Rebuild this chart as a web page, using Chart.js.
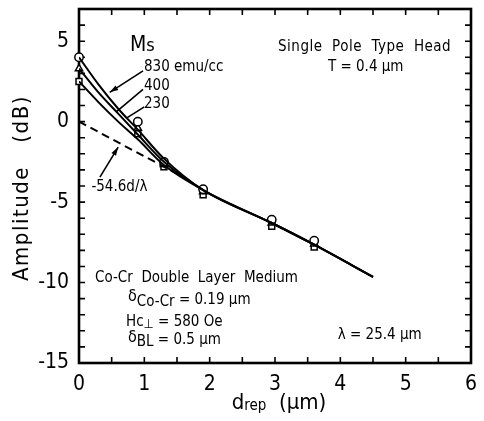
<!DOCTYPE html>
<html>
<head>
<meta charset="utf-8">
<script src="https://cdn.jsdelivr.net/npm/chart.js@4"></script>
<style>
  body { margin: 0; background: #fff; }
  canvas { display: block; }
</style>
</head>
<body>
<canvas id="chart" width="484" height="421"></canvas>
<script>
// fitted curves, one per Ms value (they merge past ~1.9 um)
const curveX = [0, 0.3, 0.6, 0.9, 1.3, 1.9, 2.95, 3.6, 4.5];
const curve830 = [4.0, 2.3, 0.8, -0.5, -2.3, -4.25, -6.3, -7.65, -9.65];
const curve400 = [3.3, 1.8, 0.5, -0.8, -2.5, -4.25, -6.3, -7.65, -9.65];
const curve230 = [2.5, 1.2, 0.0, -1.1, -2.7, -4.25, -6.3, -7.65, -9.65];

// measured points
const measX = [0, 0.9, 1.3, 1.9, 2.95, 3.6];
const meas830 = [4.0, 0.0, -2.5, -4.2, -6.1, -7.4];
const meas400 = [3.3, -0.4, -2.65, -4.35, -6.3, -7.6];
const meas230 = [2.5, -0.75, -2.8, -4.55, -6.5, -7.8];

// -54.6 d/lambda spacing loss line
const dashX = [0, 1.6];
const dashY = [0, -3.45];

const xTickLabels = [0, 1, 2, 3, 4, 5, 6];
const yTickLabels = [-15, -10, -5, 0, 5];

const FONT = '"DejaVu Sans Condensed", "DejaVu Sans", sans-serif';
const pts = (xs, ys) => xs.map((x, i) => ({x: x, y: ys[i]}));

const lineDs = (ys) => ({
    type: 'line',
    data: pts(curveX, ys),
    borderColor: '#000',
    borderWidth: 2,
    pointRadius: 0,
    showLine: true,
    fill: false,
    cubicInterpolationMode: 'monotone'
});

const markDs = (ys, style) => ({
    data: pts(measX, ys),
    pointStyle: style,
    pointRadius: 4.2,
    pointBackgroundColor: '#fff',
    pointBorderColor: '#000',
    pointBorderWidth: 1.5,
    showLine: false,
    clip: false
});

const font = (size) => size + 'px ' + FONT;

// draw a row of text pieces (for subscripts), starting at x
const runs = (ctx, x, y, parts) => {
    parts.forEach(p => {
        ctx.font = font(p[1]);
        ctx.fillText(p[0], x, y + (p[2] || 0));
        x += ctx.measureText(p[0]).width;
    });
    return x;
};
const runsWidth = (ctx, parts) => parts.reduce((w, p) => {
    ctx.font = font(p[1]);
    return w + ctx.measureText(p[0]).width;
}, 0);

const arrow = (ctx, x1, y1, x2, y2, head) => {
    ctx.save();
    ctx.lineWidth = 1.6;
    ctx.beginPath();
    ctx.moveTo(x1, y1);
    ctx.lineTo(x2, y2);
    ctx.stroke();
    if (head) {
        const a = Math.atan2(y2 - y1, x2 - x1);
        ctx.beginPath();
        ctx.moveTo(x2, y2);
        ctx.lineTo(x2 - 9 * Math.cos(a - 0.3), y2 - 9 * Math.sin(a - 0.3));
        ctx.lineTo(x2 - 9 * Math.cos(a + 0.3), y2 - 9 * Math.sin(a + 0.3));
        ctx.closePath();
        ctx.fill();
    }
    ctx.restore();
};

const framePlugin = {
    id: 'frame',
    beforeDatasetsDraw(chart) {
        const {ctx, chartArea: a, scales: {x, y}} = chart;
        ctx.save();
        ctx.strokeStyle = '#000';
        ctx.lineWidth = 1.6;
        ctx.beginPath();
        for (let v = 0.5; v < 6; v += 0.5) {
            const px = x.getPixelForValue(v);
            ctx.moveTo(px, a.bottom); ctx.lineTo(px, a.bottom - 6);
            ctx.moveTo(px, a.top); ctx.lineTo(px, a.top + 6);
        }
        for (let v = -14; v < 7; v++) {
            const py = y.getPixelForValue(v);
            ctx.moveTo(a.left, py); ctx.lineTo(a.left + 6, py);
            ctx.moveTo(a.right, py); ctx.lineTo(a.right - 6, py);
        }
        ctx.stroke();
        ctx.lineWidth = 2.6;
        ctx.strokeRect(a.left, a.top, a.right - a.left, a.bottom - a.top);
        ctx.restore();
    },
    afterDraw(chart) {
        const {ctx, scales: {x, y}} = chart;
        const px = v => x.getPixelForValue(v);
        const py = v => y.getPixelForValue(v);
        ctx.save();
        ctx.fillStyle = '#000';
        ctx.strokeStyle = '#000';
        ctx.textBaseline = 'middle';
        ctx.textAlign = 'left';

        runs(ctx, px(0.78), py(4.75), [['M', 21], ['s', 18, 1]]);
        runs(ctx, px(0.995), py(3.4), [['830 emu/cc', 15]]);
        runs(ctx, px(0.995), py(2.22), [['400', 15]]);
        runs(ctx, px(0.995), py(1.1), [['230', 15]]);
        arrow(ctx, px(0.98), py(3.15), px(0.47), py(1.82), true);
        arrow(ctx, px(0.98), py(2.0), px(0.57), py(0.6), false);
        arrow(ctx, px(1.0), py(0.92), px(0.72), py(0.2), false);

        runs(ctx, px(0.19), py(-4.08), [['-54.6d/λ', 15]]);
        arrow(ctx, px(0.32), py(-3.45), px(0.6), py(-1.58), true);

        ctx.save();
        ctx.letterSpacing = '0.5px';
        runs(ctx, px(3.046), py(4.65), [['Single  Pole  Type  Head', 15]]);
        ctx.restore();
        runs(ctx, px(3.81), py(3.4), [['T = 0.4 μm', 15]]);

        runs(ctx, px(0.245), py(-9.73), [['Co-Cr  Double  Layer  Medium', 15]]);
        runs(ctx, px(0.75), py(-11.1), [['δ', 16, -3], ['Co-Cr', 15, 2], [' = 0.19 μm', 15]]);
        runs(ctx, px(0.72), py(-12.47), [['Hc', 15], ['⊥', 13, 2], [' = 580 Oe', 15]]);
        runs(ctx, px(0.75), py(-13.6), [['δ', 16, -3], ['BL', 15, 2], [' = 0.5 μm', 15]]);
        runs(ctx, px(3.96), py(-13.28), [['λ = 25.4 μm', 15]]);

        // axis titles
        const yt = [['Amplitude   (dB)', 22]];
        ctx.save();
        ctx.letterSpacing = '1.5px';
        ctx.translate(22, 188);
        ctx.rotate(-Math.PI / 2);
        runs(ctx, -runsWidth(ctx, yt) / 2, 0, yt);
        ctx.restore();

        const xt = [['d', 22], ['rep', 15, 3], ['  (μm)', 22]];
        runs(ctx, 279 - runsWidth(ctx, xt) / 2, 403, xt);
        ctx.restore();
    }
};

new Chart(document.getElementById('chart'), {
    type: 'scatter',
    data: {
        datasets: [
            lineDs(curve830),
            lineDs(curve400),
            lineDs(curve230),
            {
                type: 'line',
                data: pts(dashX, dashY),
                borderColor: '#000',
                borderWidth: 2,
                borderDash: [8, 5],
                pointRadius: 0,
                fill: false
            },
            markDs(meas830, 'circle'),
            markDs(meas400, 'triangle'),
            markDs(meas230, 'rect')
        ]
    },
    options: {
        responsive: false,
        animation: false,
        devicePixelRatio: 1,
        layout: {padding: {top: 9, right: 13, left: 0, bottom: 0}},
        plugins: {legend: {display: false}, tooltip: {enabled: false}},
        scales: {
            x: {
                type: 'linear', min: 0, max: 6,
                afterFit: s => { s.height = 58; s.paddingLeft = 0; s.paddingRight = 0 },
                grid: {display: false, drawTicks: false},
                border: {display: false},
                ticks: {
                    stepSize: 0.5, autoSkip: false, maxRotation: 0, padding: 9,
                    color: '#000', font: {family: FONT, size: 21},
                    callback: v => xTickLabels.includes(v) ? String(v) : ''
                }
            },
            y: {
                type: 'linear', min: -15, max: 7,
                afterFit: s => { s.width = 79; s.paddingTop = 0; s.paddingBottom = 0 },
                grid: {display: false, drawTicks: false},
                border: {display: false},
                ticks: {
                    stepSize: 1, autoSkip: false, padding: 10,
                    color: '#000', font: {family: FONT, size: 21},
                    callback: v => yTickLabels.includes(v) ? String(v) : ''
                }
            }
        }
    },
    plugins: [framePlugin]
});
</script>
</body>
</html>
